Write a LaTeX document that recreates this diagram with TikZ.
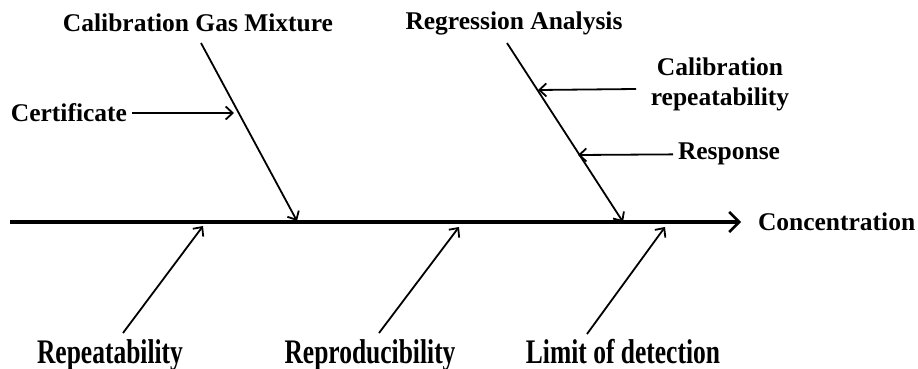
\documentclass[tikz,border=0pt]{standalone}
\usepackage{fontspec}
\usepackage{graphicx}
\setmainfont{Liberation Serif}
\usetikzlibrary{arrows.meta, positioning}

\newcommand{\tallword}[1]{\scalebox{1}[1.35]{#1}}

\begin{document}
\begin{tikzpicture}[
  x=1pt, y=-1pt,
  >={Straight Barb[length=7pt,width=13pt]},
  font=\bfseries\fontsize{25.5}{30}\selectfont,
  label/.style={inner sep=0pt, outer sep=5pt, align=center},
  lowlabel/.style={label, anchor=base},
  spine/.style={line width=3.2pt, -{Straight Barb[length=10pt,width=20pt,line width=2.6pt]}},
  bone/.style={line width=1.8pt, ->},
  twig/.style={line width=1.8pt, ->}
]
\useasboundingbox (0,0) rectangle (918,369);

% SPINE
\coordinate (tail) at (10,222);
\node[label, anchor=west] (effect) at (753,222) {Concentration};
\draw[spine] (tail) -- (effect.west) [shorten >=12pt];

% UPPER BONES
\node[label] (gas) at (198,23) {Calibration Gas Mixture};
\coordinate (gas top) at (201,43);
\coordinate (gas tip) at (297,221);
\draw[bone] (gas top) -- (gas tip);

\node[label] (regr) at (514,23) {Regression Analysis};
\coordinate (regr top) at (507,43);
\coordinate (regr tip) at (623,222);
\draw[bone] (regr top) -- (regr tip);

% CAUSES ON UPPER BONES
\node[label, anchor=east] (cert) at (132,113) {Certificate};
\coordinate (cert tip) at (234,113);
\draw[twig] (cert) -- (cert tip);

\node[label] (calrep) at (720,84) {Calibration\\repeatability};
\coordinate (calrep start) at (636,89);
\coordinate (calrep tip) at (538,90);
\draw[twig] (calrep start) -- (calrep tip);

\node[label, anchor=west] (resp) at (673,154) {Response};
\coordinate (resp tip) at (578,155);
\draw[twig] (resp) -- (resp tip);

% LOWER BONES
\node[lowlabel] (repeat) at (110,363) {\tallword{Repeatability}};
\coordinate (repeat foot) at (123,333);
\coordinate (repeat tip) at (203,226);
\draw[bone] (repeat foot) -- (repeat tip);

\node[lowlabel] (repro) at (370,363) {\tallword{Reproducibility}};
\coordinate (repro foot) at (379,333);
\coordinate (repro tip) at (459,227);
\draw[bone] (repro foot) -- (repro tip);

\node[lowlabel] (lod) at (623,363) {\tallword{Limit of detection}};
\coordinate (lod foot) at (587,334);
\coordinate (lod tip) at (665,227);
\draw[bone] (lod foot) -- (lod tip);

\end{tikzpicture}
\end{document}
